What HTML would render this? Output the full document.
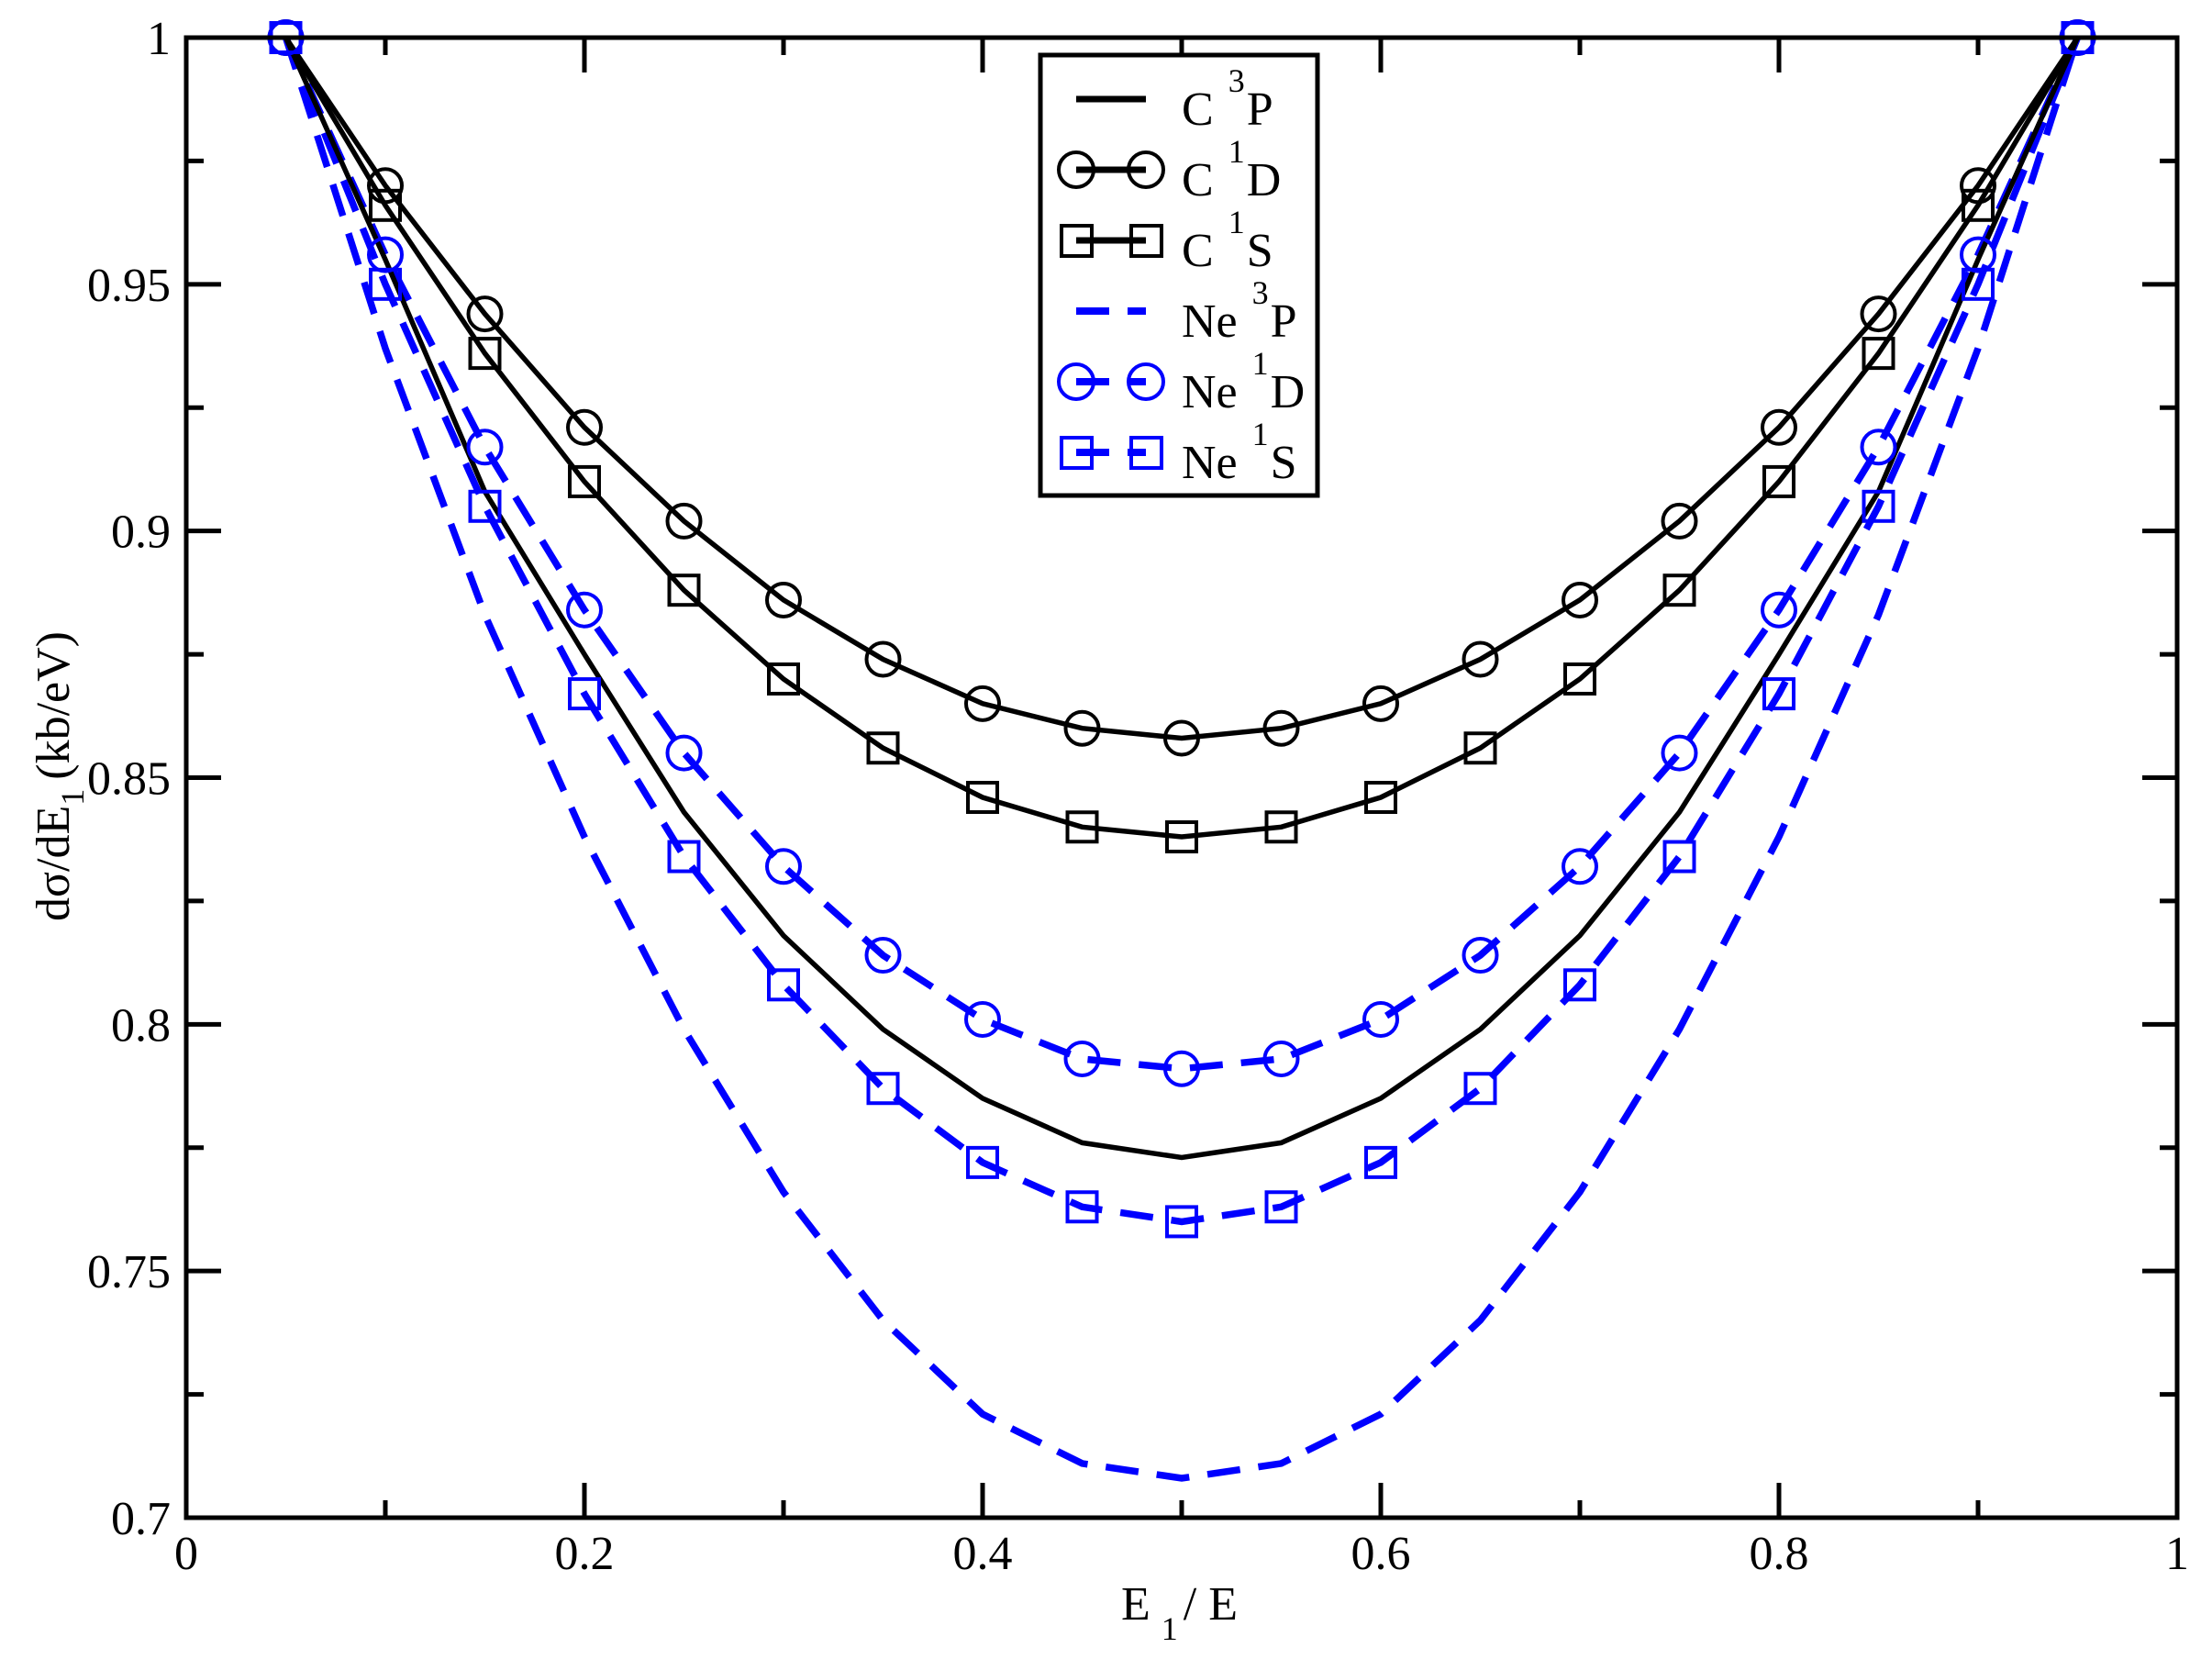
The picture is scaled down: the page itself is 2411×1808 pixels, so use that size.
<!DOCTYPE html>
<html><head><meta charset="utf-8"><style>
html,body{margin:0;padding:0;background:#fff}
svg{display:block}
text{font-family:"Liberation Serif","Times New Roman",serif;fill:#000}
</style></head><body>
<svg id="s" xmlns="http://www.w3.org/2000/svg" width="2411" height="1808" viewBox="0 0 2411 1808"></svg>
<script>
const L=203,R=2373,T=41,B=1654;
const X=v=>L+v*(R-L), Y=v=>B-(v-0.7)/0.3*(B-T);
let s='<rect width="2411" height="1808" fill="#fff"/>';
for(let i=0;i<=10;i++){const x=X(i/10),len=i%2?19:38;
 s+=`<line x1="${x}" y1="${B}" x2="${x}" y2="${B-len}" stroke="#000" stroke-width="5"/>`;
 s+=`<line x1="${x}" y1="${T}" x2="${x}" y2="${T+len}" stroke="#000" stroke-width="5"/>`;
 if(i%2==0) s+=`<text x="${x}" y="1710" font-size="52" text-anchor="middle">${i==0?'0':i==10?'1':(i/10).toFixed(1)}</text>`;}
for(let i=0;i<=12;i++){const v=0.7+i*0.025,y=Y(v),len=i%2?19:38;
 s+=`<line x1="${L}" y1="${y}" x2="${L+len}" y2="${y}" stroke="#000" stroke-width="5"/>`;
 s+=`<line x1="${R}" y1="${y}" x2="${R-len}" y2="${y}" stroke="#000" stroke-width="5"/>`;
 if(i%2==0){let t=i==12?'1':(+v.toFixed(2)).toString();s+=`<text x="186" y="${y+18}" font-size="52" text-anchor="end">${t}</text>`;}}
const xs=[];for(let i=1;i<=19;i++)xs.push(i*0.05);
function sym(a){return a.concat(a.slice(0,-1).reverse());}
const D={
c3p:sym([1,.955,.908,.875,.843,.818,.799,.785,.776,.773]),
c1d:sym([1,.970,.944,.921,.902,.886,.874,.865,.860,.858]),
c1s:sym([1,.966,.936,.910,.888,.870,.856,.846,.840,.838]),
n3p:sym([1,.937,.883,.838,.799,.766,.740,.721,.711,.708]),
n1d:sym([1,.956,.917,.884,.855,.832,.814,.801,.793,.791]),
n1s:sym([1,.950,.905,.867,.834,.808,.787,.772,.763,.760])};
function line(d,col,dash){const p=d.map((v,i)=>X(xs[i]).toFixed(1)+','+Y(v).toFixed(1)).join(' ');
 return `<polyline points="${p}" fill="none" stroke="${col}" stroke-width="${dash?7.5:5.5}" stroke-linejoin="miter" ${dash?'stroke-dasharray="36 20"':''}/>`;}
function marks(d,col,type){let o='';d.forEach((v,i)=>{const x=X(xs[i]),y=Y(v);
 o+= type=='c'?`<circle cx="${x}" cy="${y}" r="18" fill="none" stroke="${col}" stroke-width="4"/>`
 :`<rect x="${x-16}" y="${y-16}" width="32" height="32" fill="none" stroke="${col}" stroke-width="4"/>`;});return o;}
s+=line(D.n3p,'#0000ff',1)+line(D.n1s,'#0000ff',1)+line(D.n1d,'#0000ff',1);
s+=line(D.c3p,'#000',0)+line(D.c1s,'#000',0)+line(D.c1d,'#000',0);
s+=marks(D.c1d,'#000','c')+marks(D.c1s,'#000','s')+marks(D.n1d,'#0000ff','c')+marks(D.n1s,'#0000ff','s');
s+=`<rect x="${L}" y="${T}" width="${R-L}" height="${B-T}" fill="none" stroke="#000" stroke-width="5"/>`;
s+=`<rect x="1134" y="60" width="302" height="480" fill="#fff" stroke="#000" stroke-width="5"/>`;
const items=[['C','3','P','#000',0,''],['C','1','D','#000',0,'c'],['C','1','S','#000',0,'s'],['Ne','3','P','#0000ff',1,''],['Ne','1','D','#0000ff',1,'c'],['Ne','1','S','#0000ff',1,'s']];
items.forEach((it,k)=>{const y=108+k*77;const col=it[3];
 if(it[4]) s+=`<line x1="1173" y1="${y}" x2="1249" y2="${y}" stroke="${col}" stroke-width="8" stroke-dasharray="36 20"/>`;
 else s+=`<line x1="1173" y1="${y}" x2="1249" y2="${y}" stroke="${col}" stroke-width="7"/>`;
 if(it[5]=='c') s+=`<circle cx="1173" cy="${y}" r="19" fill="none" stroke="${col}" stroke-width="4"/><circle cx="1249" cy="${y}" r="19" fill="none" stroke="${col}" stroke-width="4"/>`;
 if(it[5]=='s') s+=`<rect x="1157" y="${y-16}" width="33" height="33" fill="none" stroke="${col}" stroke-width="4"/><rect x="1233" y="${y-16}" width="33" height="33" fill="none" stroke="${col}" stroke-width="4"/>`;
 const base=y+28;
 s+=`<text x="1288" y="${base}" font-size="52">${it[0]}<tspan font-size="36" dx="16" dy="-36">${it[1]}</tspan><tspan font-size="52" dx="2" dy="36">${it[2]}</tspan></text>`;
});
s+=`<text x="1222" y="1765" font-size="52">E<tspan font-size="36" dx="12" dy="22">1</tspan><tspan font-size="52" dx="6" dy="-22">/ E</tspan></text>`;
s+=`<text transform="translate(75,846) rotate(-90)" font-size="52" text-anchor="middle">dσ/dE<tspan font-size="36" dy="16">1</tspan><tspan font-size="52" dx="10" dy="-16">(kb/eV)</tspan></text>`;
document.getElementById('s').innerHTML=s;
</script>
</body></html>
